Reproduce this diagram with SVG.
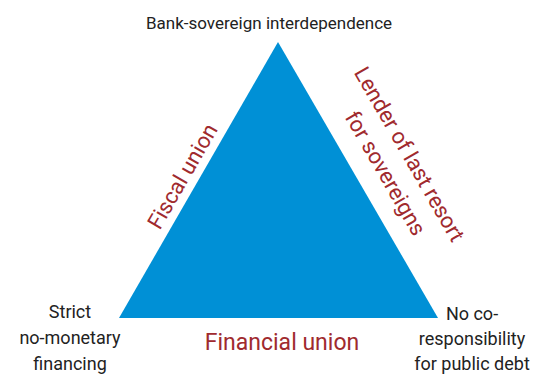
<svg xmlns="http://www.w3.org/2000/svg" width="542" height="374" viewBox="0 0 542 374">
<style>
.k{font-family:Roboto,"Open Sans",sans-serif;fill:#222;font-size:18px;text-anchor:middle}
.r{font-family:Roboto,"Open Sans",sans-serif;fill:#a02a2e;font-size:22px;text-anchor:middle}
</style>
<rect width="542" height="374" fill="#fff"/>
<g id="triangle"><polygon points="278,42 119,318 438,318" fill="#0090d6"/></g>
<g id="connectors"></g>
<g id="top"><text class="k" x="269" y="29" style="font-size:17px">Bank-sovereign interdependence</text></g>
<g id="left"><text class="k" x="70" y="318">Strict</text><text class="k" x="70" y="344">no-monetary</text><text class="k" x="70" y="370">financing</text></g>
<g id="right"><text class="k" x="472" y="320">No co-</text><text class="k" x="472" y="345">responsibility</text><text class="k" x="472" y="370">for public debt</text></g>
<g id="fiscal"><text class="r" transform="translate(189,180) rotate(-60)">Fiscal union</text></g>
<g id="lender"><text class="r" transform="translate(403,158) rotate(60)">Lender of last resort</text><text class="r" transform="translate(379,177) rotate(60)">for sovereigns</text></g>
<g id="financial"><text class="r" x="282" y="350" style="font-size:23px">Financial union</text></g>
</svg>
